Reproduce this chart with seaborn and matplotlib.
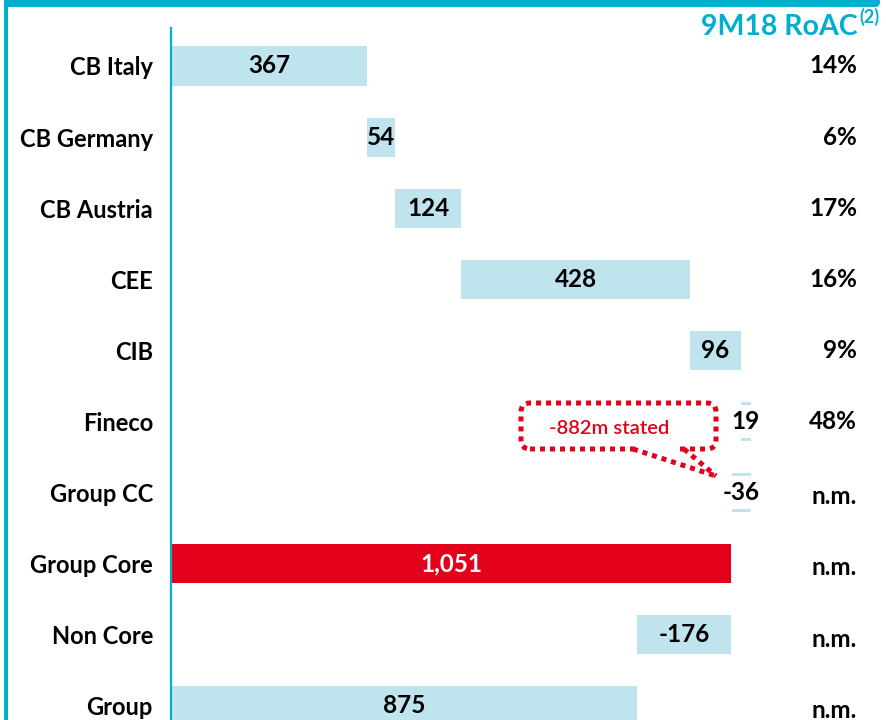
import matplotlib
matplotlib.use("Agg")
import matplotlib.pyplot as plt
from matplotlib.patches import FancyBboxPatch, Rectangle
from matplotlib.lines import Line2D
import seaborn as sns
import pandas as pd

categories = ["CB Italy", "CB Germany", "CB Austria", "CEE", "CIB", "Fineco",
              "Group CC", "Group Core", "Non Core", "Group"]
values = [367, 54, 124, 428, 96, 19, -36, 1051, -176, 875]
value_labels = ["367", "54", "124", "428", "96", "19", "-36", "1,051", "-176", "875"]
kinds = ["step", "step", "step", "step", "step", "step", "step", "total", "step", "total"]
roac = ["14%", "6%", "17%", "16%", "9%", "48%", "n.m.", "n.m.", "n.m.", "n.m."]
roac_header = "9M18 RoAC"
roac_note = "(2)"
callout_text = "-882m stated"

LIGHT = "#C0E4EE"
RED = "#E2001A"
CYAN = "#00AED0"

# waterfall starting points
lefts = []
running = 0
for v, k in zip(values, kinds):
    if k == "total":
        lefts.append(0)
        running = v
    else:
        lefts.append(running)
        running += v

sns.set_theme(style="white")
plt.rcParams["font.family"] = ["Lato", "DejaVu Sans"]

W, H = 887, 720
fig = plt.figure(figsize=(W / 100, H / 100), dpi=100)
ax = fig.add_axes([171 / W, 0, 1 - 171 / W, 1 - 28 / H])

df = pd.DataFrame({"cat": categories, "val": values})
colors = [RED if c == "Group Core" else LIGHT for c in categories]
sns.barplot(data=df, x="val", y="cat", hue="cat", palette=colors, legend=False,
            orient="h", width=0.55, saturation=1, ax=ax)

for patch, left in zip(ax.patches, lefts):
    patch.set_x(left)
    patch.set_linewidth(0)

ax.set_xlim(0, 716 / 0.533)
ax.set_ylim(9.198, -0.534)
ax.set_xticks([])
ax.set_xlabel("")
ax.set_ylabel("")
for s in ["top", "right", "bottom"]:
    ax.spines[s].set_visible(False)
ax.spines["left"].set_color(CYAN)
ax.spines["left"].set_linewidth(1.6)
ax.tick_params(axis="y", length=0, pad=13, labelsize=17)
for lbl in ax.get_yticklabels():
    lbl.set_fontweight("bold")
    lbl.set_color("black")

# value labels
for i, (v, left, lab) in enumerate(zip(values, lefts, value_labels)):
    cx = left + v / 2
    color = "white" if categories[i] == "Group Core" else "black"
    kw = {}
    if abs(v) < 40:
        kw["bbox"] = dict(boxstyle="square,pad=0.22", fc="white", ec="none")
    ax.text(cx, i, lab, ha="center", va="center", fontsize=17.5, fontweight="bold",
            color=color, **kw)

# RoAC column
for i, r in enumerate(roac):
    yoff = 0.06 if r == "n.m." else 0.0
    ax.text((857 - 171) / 716, i + yoff, r, transform=ax.get_yaxis_transform(),
            ha="right", va="center", fontsize=17.5, fontweight="bold", color="black",
            clip_on=False)

pt = fig.dpi_scale_trans
def P(x, y):
    return (x / 100, (H - y) / 100)

fig.text(858 / W, 1 - 27 / H, roac_header, ha="right", va="center", fontsize=20.5,
         fontweight="bold", color=CYAN)
fig.text(859 / W, 1 - 17 / H, roac_note, ha="left", va="center", fontsize=13,
         fontweight="bold", color=CYAN)

# top band and left border
fig.patches.append(FancyBboxPatch(P(4, 7), 876 / 100, 10 / 100,
                                  boxstyle="round,pad=0,rounding_size=0.05",
                                  transform=pt, fc=CYAN, ec="none", zorder=5))
fig.patches.append(Rectangle(P(4, 720), 3.5 / 100, 720 / 100, transform=pt,
                             fc=CYAN, ec="none", zorder=5))

# callout
fig.patches.append(FancyBboxPatch(P(521, 449), 195 / 100, 46 / 100,
                                  boxstyle="round,pad=0,rounding_size=0.09",
                                  transform=pt, fc="none", ec=RED, lw=3.6,
                                  linestyle=(0, (1, 1)), zorder=6))
fig.patches.append(Rectangle(P(637, 454), 43 / 100, 10 / 100, transform=pt,
                             fc="white", ec="none", zorder=7))
for x0 in (633, 684):
    x1, y1 = P(x0, 449)
    x2, y2 = P(716, 476)
    fig.lines.append(Line2D([x1, x2], [y1, y2], transform=pt, color=RED, lw=3.6,
                            linestyle=(0, (1, 1)), zorder=8))
fig.text(609 / W, 1 - 428 / H, callout_text, ha="center", va="center",
         fontsize=14.5, fontweight="semibold", color=RED)

fig.savefig("out.png", dpi=100)
